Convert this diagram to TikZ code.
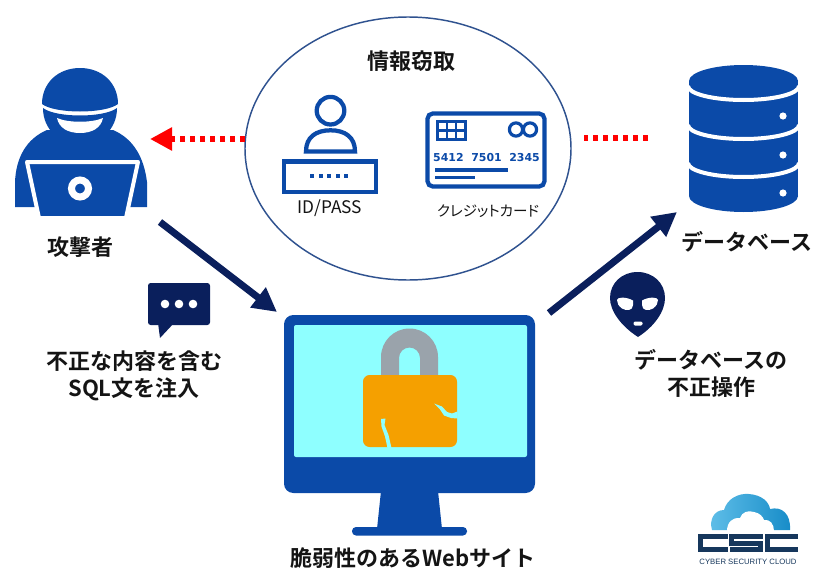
\documentclass[tikz,border=0pt]{standalone}
\usepackage{fontspec}
\setmainfont{Noto Sans CJK JP}[BoldFont={Noto Sans CJK JP Bold}]
\newfontfamily\numfont{DejaVu Sans}
\newfontfamily\logofont{Liberation Sans}
\usetikzlibrary{arrows.meta,shapes.geometric}

\definecolor{iconblue}{RGB}{11,74,168}
\definecolor{navy}{RGB}{10,31,92}
\definecolor{ellc}{RGB}{47,82,143}
\definecolor{screen}{RGB}{142,255,255}
\definecolor{lockorange}{RGB}{245,160,0}
\definecolor{lockgray}{RGB}{154,163,171}
\definecolor{alarm}{RGB}{255,0,0}
\definecolor{ink}{RGB}{20,20,20}
\definecolor{cscnavy}{RGB}{22,55,92}
\definecolor{cloudL}{RGB}{95,190,232}
\definecolor{cloudR}{RGB}{23,140,200}

\tikzset{
  lbl/.style={font=\bfseries\fontsize{16.5}{20.25}\selectfont, text=ink, align=center, inner sep=0pt},
  caption/.style={font=\fontsize{13}{15}\selectfont, text=ink, inner sep=0pt},
  flow/.style={draw=navy, line width=5.25pt, -{Triangle[length=18pt,width=18pt]}},
  leak/.style={draw=alarm, line width=4.5pt, dash pattern=on 3.75pt off 3.75pt},
  outline/.style={draw=iconblue, line width=3.2pt},
}

\begin{document}
\begin{tikzpicture}[x=0.75pt,y=-0.75pt]
\useasboundingbox (0,0) rectangle (814,571);

% ---------- attacker ----------
\fill[iconblue] (15,207) -- (15,182) .. controls (16,158) and (26,139) .. (47,130)
  -- (113,130) .. controls (134,139) and (144,158) .. (147,182) -- (147,207) -- cycle;
% helmet
\fill[iconblue] (42,104) .. controls (42,83) and (58,68) .. (80,68)
  .. controls (102,68) and (118,83) .. (118,104)
  .. controls (105,114) and (55,114) .. (42,104) -- cycle;
% mask ring and face
\fill[iconblue] (43,108) .. controls (56,118) and (104,118) .. (117,108)
  .. controls (117,130) and (100,144) .. (80,144)
  .. controls (60,144) and (43,130) .. (43,108) -- cycle;
\fill[white] (57,118) .. controls (68,123) and (92,123) .. (103,118)
  .. controls (101,128) and (92,133) .. (80,133)
  .. controls (68,133) and (59,128) .. (57,118) -- cycle;
% laptop
\filldraw[fill=iconblue, draw=white, line width=3pt, line join=round]
  (27,162) -- (138,162) -- (126,218) -- (39,218) -- cycle;
\draw[white, line width=5.25pt] (80,188.5) circle[radius=8.5];

% ---------- database ----------
\fill[iconblue] (689,81) rectangle (798,196);
\fill[iconblue] (743.5,81) ellipse[x radius=54.5, y radius=16];
\fill[iconblue] (743.5,196) ellipse[x radius=54.5, y radius=16];
\foreach \c in {86,125,163}{
  \draw[white, line width=3pt] (688,\c) arc[start angle=180, end angle=0, x radius=55.5, y radius=14];
}
\foreach \c in {116,155,193}{
  \fill[white] (783,\c) circle[radius=3.6];
}

% ---------- stolen information ----------
\node[ellipse, draw=ellc, line width=1.1pt, minimum width=244.5pt, minimum height=197.25pt, inner sep=0pt]
  (steal) at (408,148.5) {};
\node[lbl] (stealLabel) at (411,61) {情報窃取};

% user / password icon
\draw[outline] (330.5,110.7) circle[radius=13.8];
\draw[outline] (306,151.5) .. controls (306,137) and (316,130.3) .. (330.5,130.3)
  .. controls (345,130.3) and (355,137) .. (355,151.5) -- cycle;
\draw[outline] (284,161.5) rectangle (376,191.7);
\foreach \d in {0,1,2,3,4}{
  \fill[iconblue] (310+8.6*\d,174) rectangle ++(4,4);
}
\node[caption] (idLabel) at (330,208) {ID/PASS};

% credit card icon
\draw[outline, rounded corners=4pt] (427.5,113.5) rectangle (544.5,186.5);
\draw[iconblue, line width=2.2pt] (437.5,121.5) rectangle (465.5,139.5);
\draw[iconblue, line width=2.2pt] (447,121.5) -- (447,139.5) (456,121.5) -- (456,139.5)
  (437.5,130.5) -- (465.5,130.5);
\draw[iconblue, line width=2.4pt] (516,129.5) circle[radius=6.6] (530,129.5) circle[radius=6.6];
\node[font=\numfont\bfseries\fontsize{8.2}{10}\selectfont, text=iconblue, inner sep=0pt]
  (cardNo) at (486.5,158) {5412\ \ 7501\ \ 2345};
\draw[iconblue, line width=2.3pt] (435,170) -- (508,170) (435,177.7) -- (475,177.7);
\node[caption, font=\fontsize{10.9}{13}\selectfont\addfontfeature{RawFeature=+palt}]
  (cardLabel) at (488,211) {クレジットカード};

% ---------- leak arrows ----------
\coordinate (ellLeft) at (245,139);
\coordinate (atkIn) at (150,139);
\coordinate (dbOut) at (648,138);
\coordinate (ellRight) at (584,138);
\draw[leak, -{Triangle[length=16.5pt,width=16.5pt]}] (ellLeft) -- (atkIn);
\draw[leak] (dbOut) -- (ellRight);

% ---------- vulnerable website ----------
\fill[iconblue, rounded corners=7pt] (284,315) rectangle (535,493);
\fill[screen, rounded corners=1.5pt] (294,325) rectangle (527,457);
\fill[iconblue] (381,491) -- (438,491) -- (442,529) -- (377,529) -- cycle;
\fill[iconblue, rounded corners=3pt] (352,527) rectangle (467,535.5);
% broken padlock
\fill[lockgray] (381,376) -- (381,357) arc[start angle=180, end angle=360, radius=28.5]
  -- (438,376) -- (420,376) -- (420,358) arc[start angle=360, end angle=180, radius=10.5]
  -- (399,376) -- cycle;
\fill[lockorange, rounded corners=5pt] (363,375) rectangle (457,447);
\fill[screen] (434,403.5) -- (442,406.5) -- (447,412) -- (452,413.5) -- (457.5,411.5)
  -- (457.5,418.5) -- (451,418) -- (444,415.5) -- (440,409.5) -- cycle;
\fill[screen] (381,419) -- (385.5,418.5) -- (384.5,425) -- (388.5,435) -- (391.5,448)
  -- (387.5,448) -- (385,436.5) -- (381.5,426.5) -- cycle;
\node[lbl] (siteLabel) at (413,558) {脆弱性のあるWebサイト};

% ---------- attack flow ----------
\coordinate (atkOut) at (160,222);
\coordinate (siteIn) at (277,312);
\coordinate (siteOut) at (549,313);
\coordinate (dbIn) at (677,212);
\draw[flow] (atkOut) -- (siteIn);
\draw[flow] (siteOut) -- (dbIn);

% ---------- labels ----------
\node[lbl] (atkLabel) at (80,247) {攻撃者};
\node[lbl] (dbLabel) at (747,242) {データベース};

% injected SQL
\fill[navy, rounded corners=2pt] (148,283) rectangle (210,325);
\fill[navy] (158,323) -- (160,338) -- (174,323) -- cycle;
\foreach \x in {165,179,193}{ \fill[white] (\x,304) circle[radius=4.3]; }
\node[lbl] (sqlLabel) at (134,375.5) {不正な内容を含む\\SQL文を注入};

% tampering
\fill[navy] (638,337) .. controls (621,326) and (610,311) .. (610,298)
  .. controls (610,283) and (622,272) .. (637.5,272)
  .. controls (653,272) and (665,283) .. (665,298)
  .. controls (665,311) and (655,326) .. (638,337) -- cycle;
\fill[white] (617,300) .. controls (617,297) and (626,296.5) .. (633,300.5) -- (633,305)
  .. controls (633,311) and (626,311) .. (622,308.5) .. controls (618.5,306) and (617,303) .. (617,300) -- cycle;
\fill[white] (658,300) .. controls (658,297) and (649,296.5) .. (642,300.5) -- (642,305)
  .. controls (642,311) and (649,311) .. (653,308.5) .. controls (656.5,306) and (658,303) .. (658,300) -- cycle;
\fill[white, rounded corners=1pt] (633.5,321.5) rectangle (642.5,325.5);
\node[lbl] (tamperLabel) at (711,373) {データベースの\\不正操作};

% ---------- CSC logo ----------
\path[left color=cloudL, right color=cloudR]
  (712,530) .. controls (709,520) and (714,510) .. (724,510)
  .. controls (727,499) and (738,493) .. (749,494)
  .. controls (762,495) and (769,502) .. (770,509)
  .. controls (782,506) and (791,514) .. (790,530) -- cycle;
\fill[white] (727,531) .. controls (727,522) and (733,517) .. (740,518)
  .. controls (742,512) and (748,510) .. (754,512)
  .. controls (760,513) and (763,517) .. (764,520)
  .. controls (770,519) and (774,524) .. (774,531) -- cycle;
\draw[cscnavy, line width=3.75pt, line join=miter]
  (727.5,536.5) -- (700.5,536.5) -- (700.5,549.5) -- (727.5,549.5);
\draw[cscnavy, line width=3.75pt, line join=miter]
  (762.5,536.5) -- (731.5,536.5) -- (731.5,543) -- (760.5,543) -- (760.5,549.5) -- (729.5,549.5);
\draw[cscnavy, line width=3.75pt, line join=miter]
  (798,536.5) -- (767.5,536.5) -- (767.5,549.5) -- (798,549.5);
\node[font=\logofont\fontsize{5.8}{6}\selectfont, text=cscnavy, inner sep=0pt]
  (cscName) at (748,561.5) {CYBER SECURITY CLOUD};
\end{tikzpicture}
\end{document}
